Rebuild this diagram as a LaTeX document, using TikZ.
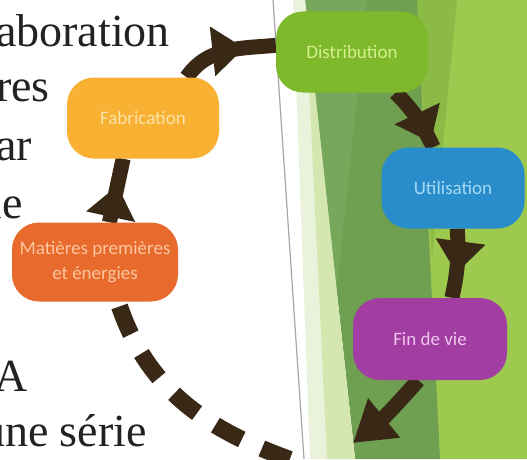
\documentclass[tikz,border=0pt]{standalone}
\usepackage{fontspec}
\setmainfont{Liberation Serif}
\newfontfamily\boxfont{Carlito}
\usetikzlibrary{arrows.meta,decorations.markings}

\definecolor{fabfill}{HTML}{F8B133}
\definecolor{fabtext}{HTML}{FCE3A9}
\definecolor{distfill}{HTML}{7DB92A}
\definecolor{disttext}{HTML}{D3EF8E}
\definecolor{utilfill}{HTML}{2A8DCB}
\definecolor{utiltext}{HTML}{A4D9F4}
\definecolor{finfill}{HTML}{A23DA2}
\definecolor{fintext}{HTML}{F2C6EF}
\definecolor{matfill}{HTML}{E86A2C}
\definecolor{mattext}{HTML}{FAC7A0}
\definecolor{arrowbrown}{HTML}{3A2816}
\definecolor{brightgreen}{HTML}{9DC94E}
\definecolor{bandgreen}{HTML}{8BBA46}
\definecolor{midgreen}{HTML}{6F9F50}
\definecolor{lightmid}{HTML}{77A75A}
\definecolor{palegreen}{HTML}{E9F2DB}
\definecolor{palemid}{HTML}{D4E7B1}
\definecolor{rulegray}{HTML}{A6A6A6}
\definecolor{textgray}{HTML}{222222}

\pgfdeclarelayer{back}
\pgfsetlayers{back,main}

\begin{document}
\begin{tikzpicture}[x=1pt, y=1pt,
    stage/.style={rounded corners=27pt, minimum width=152pt, minimum height=81pt,
      inner sep=2pt, align=center, font=\boxfont\fontsize{19}{25}\selectfont},
    flow/.style={color=arrowbrown, line width=15pt},
    midhead/.style={postaction={decorate}, decoration={markings,
      mark=at position #1 with {\arrow{Triangle[width=48pt,length=32pt]}}}},
    serif/.style={anchor=base east, inner sep=0pt, text=textgray,
      font=\fontsize{46}{57}\selectfont}]
  \useasboundingbox (0,0) rectangle (527,459);
  \clip (0,0) rectangle (527,459);

  % green stripes of the slide
  \begin{pgfonlayer}{back}
    \fill[brightgreen] (417,0) rectangle (527,459);
    \fill[bandgreen] (417,459) -- (457,459) -- (432,200) -- cycle;
    \fill[midgreen] (305,459) -- (417,459) -- (440,0) -- (355,0) -- cycle;
    \fill[lightmid] (305,459) -- (367,459) -- (336,160) -- cycle;
    \fill[palegreen] (293,459) -- (305,459) -- (355,0) -- (310,0) -- cycle;
    \fill[palemid] (305,459) -- (355,0) -- (327,0) -- cycle;
    \draw[rulegray, line width=1.2pt] (273,459) -- (304,0);
  \end{pgfonlayer}

  % clipped slide text
  \foreach \t/\x/\y [count=\i] in {aboration/170/412, res/50/358, ar/32/299,
      le/23/241, A/28/68, une série/147/13}
    \node[serif] (line\i) at (\x,\y) {\t};

  % life cycle stages
  \node[stage, fill=fabfill, text=fabtext] (fab) at (143,341) {Fabrication};
  \node[stage, fill=distfill, text=disttext] (dist) at (352,407) {Distribution};
  \node[stage, fill=utilfill, text=utiltext, minimum width=143pt] (util) at (453,271) {Utilisation};
  \node[stage, fill=finfill, text=fintext, minimum width=154pt, minimum height=82pt] (fin) at (430,120) {Fin de vie};
  \node[stage, fill=matfill, text=mattext, minimum width=166pt, minimum height=79pt] (mat) at (95,197) {Matières premières\\et énergies};

  \coordinate (tip) at (353,16);
  \coordinate (tail) at (300,-4);

  \begin{pgfonlayer}{back}
    \draw[flow, midhead=0.58] (mat.70) -- (fab.-116);
    \draw[flow, midhead=0.68] (fab.43) to[out=55, in=185] (dist.175);
    \draw[flow, midhead=0.92] (dist.-43) to[bend left=10] (util.116);
    \draw[flow, midhead=0.64] (util.-84) to[bend left=8] (fin.62);
    \draw[flow, -{Triangle[width=48pt,length=40pt]}] (fin.-106) to[bend left=5] (tip);
    \draw[flow, line width=17pt, dash pattern=on 30pt off 22pt, dash phase=47pt]
      (mat.-60) to[out=-72, in=161] (tail);
  \end{pgfonlayer}
\end{tikzpicture}
\end{document}
